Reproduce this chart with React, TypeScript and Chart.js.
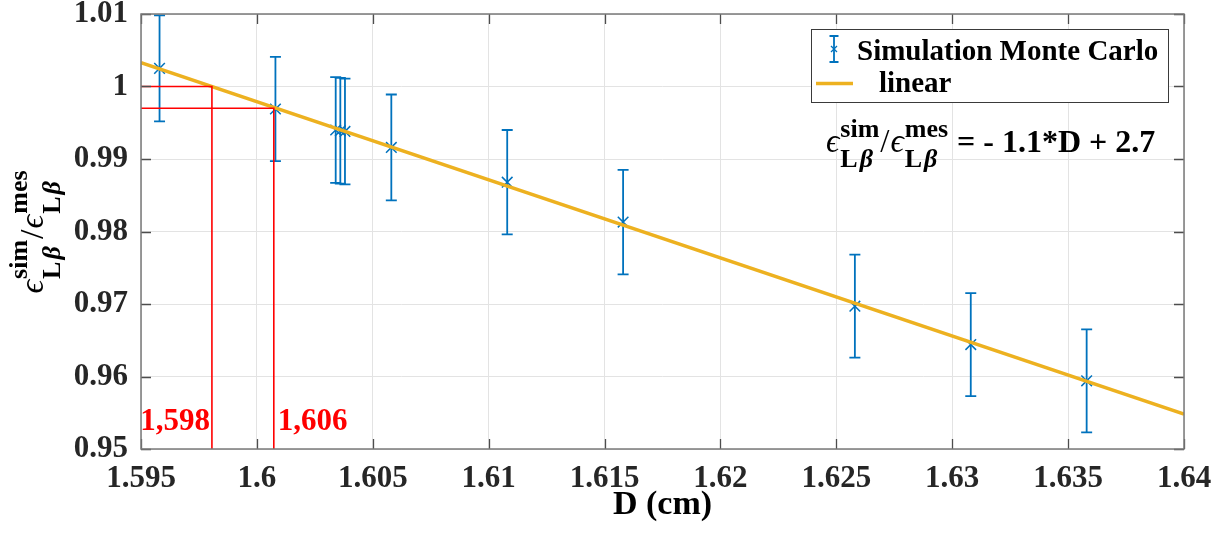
import React, { useEffect, useRef } from 'react';
import { Chart, registerables } from 'chart.js';

Chart.register(...registerables);

// ---------- data ----------
const dValues = [1.5958, 1.6008, 1.6034, 1.6036, 1.6038, 1.6058, 1.6108, 1.6158, 1.6258, 1.6308, 1.6358];
const effRatio = [1.0025, 0.9969, 0.994, 0.9939, 0.9938, 0.9916, 0.9868, 0.9813, 0.9697, 0.9644, 0.9594];
const effError = [0.0073, 0.0072, 0.0073, 0.0073, 0.0073, 0.0073, 0.0072, 0.0072, 0.0071, 0.0071, 0.0071];
const fitD = [1.595, 1.64];
const fitRatio = [1.0033, 0.9548];
const refD = [1.59806, 1.60073];
const refRatio = [1.0, 0.997];
const refLabels = ['1,598', '1,606'];
const xTickValues = [1.595, 1.6, 1.605, 1.61, 1.615, 1.62, 1.625, 1.63, 1.635, 1.64];
const xTickLabels = ['1.595', '1.6', '1.605', '1.61', '1.615', '1.62', '1.625', '1.63', '1.635', '1.64'];
const yTickValues = [0.95, 0.96, 0.97, 0.98, 0.99, 1, 1.01];
const yTickLabels = ['0.95', '0.96', '0.97', '0.98', '0.99', '1', '1.01'];
const legendLabels = ['Simulation Monte Carlo', 'linear'];
const xTitle = 'D (cm)';
const equationText = '= - 1.1*D + 2.7';

const BLUE = '#0072BD';
const YELLOW = '#EDB120';
const RED = '#FF0000';
const SERIF = '"Liberation Serif", "DejaVu Serif", serif';

type Seg = { t: string; f: string };

function drawRatioLabel(
  ctx: CanvasRenderingContext2D,
  startX: number,
  y: number,
  centered: boolean,
  mainSize: number,
  scriptSize: number,
  supShift: number,
  subShift: number
) {
  const mainEps = `italic ${mainSize}px ${SERIF}`;
  const slash = `${mainSize}px ${SERIF}`;
  const supF = `bold ${scriptSize}px ${SERIF}`;
  const subL = `bold ${scriptSize}px ${SERIF}`;
  const subB = `bold italic ${scriptSize}px ${SERIF}`;
  const blocks: { main?: Seg; sup?: Seg; sub?: Seg[] }[] = [
    { main: { t: '\u03F5', f: mainEps } },
    { sup: { t: 'sim', f: supF }, sub: [{ t: 'L', f: subL }, { t: '\u03B2', f: subB }] },
    { main: { t: '/', f: slash } },
    { main: { t: '\u03F5', f: mainEps } },
    { sup: { t: 'mes', f: supF }, sub: [{ t: 'L', f: subL }, { t: '\u03B2', f: subB }] },
  ];
  const w = (s: Seg) => {
    ctx.font = s.f;
    return ctx.measureText(s.t).width;
  };
  const blockW = (b: any) => {
    if (b.main) return w(b.main) + 1;
    const sw = w(b.sup);
    const bw = b.sub.reduce((a: number, s: Seg) => a + w(s), 0) + 2;
    return Math.max(sw, bw) + 1;
  };
  const total = blocks.reduce((a, b) => a + blockW(b), 0);
  let x = centered ? startX - total / 2 : startX;
  ctx.textBaseline = 'alphabetic';
  ctx.textAlign = 'left';
  ctx.fillStyle = '#000';
  for (const b of blocks) {
    const bw = blockW(b);
    if (b.main) {
      ctx.font = b.main.f;
      ctx.fillText(b.main.t, x, y);
    } else {
      ctx.font = b.sup!.f;
      ctx.fillText(b.sup!.t, x, y + supShift);
      let sx = x;
      for (const s of b.sub!) {
        ctx.font = s.f;
        ctx.fillText(s.t, sx, y + subShift);
        sx += ctx.measureText(s.t).width + 2;
      }
    }
    x += bw;
  }
  return x;
}

const decorPlugin = {
  id: 'decor',
  beforeDatasetsDraw(chart: any) {
    const ctx: CanvasRenderingContext2D = chart.ctx;
    const xs = chart.scales.x;
    const ys = chart.scales.y;
    ctx.save();
    ctx.strokeStyle = BLUE;
    ctx.lineWidth = 1.8;
    for (let i = 0; i < dValues.length; i++) {
      const px = xs.getPixelForValue(dValues[i]);
      const top = ys.getPixelForValue(effRatio[i] + effError[i]);
      const bot = ys.getPixelForValue(effRatio[i] - effError[i]);
      ctx.beginPath();
      ctx.moveTo(px, top);
      ctx.lineTo(px, bot);
      ctx.moveTo(px - 5.5, top);
      ctx.lineTo(px + 5.5, top);
      ctx.moveTo(px - 5.5, bot);
      ctx.lineTo(px + 5.5, bot);
      ctx.stroke();
    }
    ctx.restore();
  },
  afterDraw(chart: any) {
    const ctx: CanvasRenderingContext2D = chart.ctx;
    const xs = chart.scales.x;
    const ys = chart.scales.y;
    const { left, right, top, bottom } = chart.chartArea;
    ctx.save();
    // inner ticks
    ctx.strokeStyle = '#4d4d4d';
    ctx.lineWidth = 1.3;
    const tl = 10;
    ctx.beginPath();
    for (const v of xTickValues) {
      const px = Math.round(xs.getPixelForValue(v)) + 0.5;
      ctx.moveTo(px, bottom);
      ctx.lineTo(px, bottom - tl);
      ctx.moveTo(px, top);
      ctx.lineTo(px, top + tl);
    }
    for (const v of yTickValues) {
      const py = Math.round(ys.getPixelForValue(v)) + 0.5;
      ctx.moveTo(left, py);
      ctx.lineTo(left + tl, py);
      ctx.moveTo(right, py);
      ctx.lineTo(right - tl, py);
    }
    ctx.stroke();
    // box
    ctx.strokeStyle = '#7a7a7a';
    ctx.lineWidth = 1.5;
    ctx.strokeRect(left, top, right - left, bottom - top);

    // red labels
    ctx.fillStyle = RED;
    ctx.font = `bold 31px ${SERIF}`;
    ctx.textBaseline = 'alphabetic';
    ctx.textAlign = 'right';
    ctx.fillText(refLabels[0], xs.getPixelForValue(refD[0]) - 2, bottom - 19);
    ctx.textAlign = 'left';
    ctx.fillText(refLabels[1], xs.getPixelForValue(refD[1]) + 4, bottom - 19);

    // legend
    const lx = 811, ly = 29, lw = 357, lh = 73;
    ctx.fillStyle = '#fff';
    ctx.fillRect(lx, ly, lw, lh);
    ctx.strokeStyle = '#3a3a3a';
    ctx.lineWidth = 1;
    ctx.strokeRect(lx + 0.5, ly + 0.5, lw, lh);
    // errorbar icon
    ctx.strokeStyle = BLUE;
    ctx.lineWidth = 1.8;
    ctx.beginPath();
    ctx.moveTo(834, 36);
    ctx.lineTo(834, 62);
    ctx.moveTo(829.5, 36);
    ctx.lineTo(838.5, 36);
    ctx.moveTo(829.5, 62);
    ctx.lineTo(838.5, 62);
    ctx.stroke();
    ctx.lineWidth = 1.3;
    ctx.beginPath();
    ctx.moveTo(831, 46);
    ctx.lineTo(837, 52);
    ctx.moveTo(837, 46);
    ctx.lineTo(831, 52);
    ctx.stroke();
    // line icon
    ctx.strokeStyle = YELLOW;
    ctx.lineWidth = 3.5;
    ctx.beginPath();
    ctx.moveTo(816, 83.5);
    ctx.lineTo(853, 83.5);
    ctx.stroke();
    ctx.fillStyle = '#000';
    ctx.font = `bold 29px ${SERIF}`;
    ctx.textAlign = 'left';
    ctx.fillText(legendLabels[0], 857, 60);
    ctx.fillText(legendLabels[1], 879, 92);

    // equation
    const endX = drawRatioLabel(ctx, 826, 152, false, 33, 26, -15, 15);
    ctx.font = `bold 32px ${SERIF}`;
    ctx.fillStyle = '#000';
    ctx.textAlign = 'left';
    ctx.fillText(equationText, endX + 8, 152);

    // x title
    ctx.font = `bold 34px ${SERIF}`;
    ctx.textAlign = 'center';
    ctx.fillStyle = '#000';
    ctx.fillText(xTitle, (left + right) / 2, 514);

    // y title
    ctx.save();
    ctx.translate(43, (top + bottom) / 2);
    ctx.rotate(-Math.PI / 2);
    drawRatioLabel(ctx, 0, 0, true, 34, 26, -16, 17);
    ctx.restore();

    ctx.restore();
  },
};

export default function App() {
  const canvasRef = useRef<HTMLCanvasElement | null>(null);

  useEffect(() => {
    const canvas = canvasRef.current;
    if (!canvas) return;
    const tickFont = { family: SERIF, size: 31, weight: 'bold' as const };
    const chart = new Chart(canvas, {
      type: 'scatter',
      data: {
        datasets: [
          {
            label: 'red1',
            type: 'line',
            data: [
              { x: fitD[0], y: refRatio[0] },
              { x: refD[0], y: refRatio[0] },
              { x: refD[0], y: yTickValues[0] },
            ],
            borderColor: RED,
            borderWidth: 1.6,
            pointRadius: 0,
            fill: false,
            tension: 0,
            order: 0,
          },
          {
            label: 'red2',
            type: 'line',
            data: [
              { x: fitD[0], y: refRatio[1] },
              { x: refD[1], y: refRatio[1] },
              { x: refD[1], y: yTickValues[0] },
            ],
            borderColor: RED,
            borderWidth: 1.6,
            pointRadius: 0,
            fill: false,
            tension: 0,
            order: 0,
          },
          {
            label: legendLabels[1],
            type: 'line',
            data: fitD.map((d, i) => ({ x: d, y: fitRatio[i] })),
            borderColor: YELLOW,
            borderWidth: 3.5,
            pointRadius: 0,
            fill: false,
            tension: 0,
            order: 1,
          },
          {
            label: legendLabels[0],
            data: dValues.map((d, i) => ({ x: d, y: effRatio[i] })),
            pointStyle: 'crossRot',
            pointRadius: 7.5,
            pointBorderWidth: 1.5,
            borderColor: BLUE,
            backgroundColor: BLUE,
            order: 2,
          },
        ],
      },
      options: {
        responsive: false,
        animation: false,
        devicePixelRatio: 1,
        layout: { padding: { top: 14, right: 42, left: 0, bottom: 0 } },
        plugins: {
          legend: { display: false },
          tooltip: { enabled: false },
          title: { display: false },
        },
        scales: {
          x: {
            type: 'linear',
            min: 1.595,
            max: 1.64,
            afterBuildTicks: (s: any) => {
              s.ticks = xTickValues.map((v) => ({ value: v }));
            },
            afterFit: (s: any) => {
              s.height = 94;
              s.paddingLeft = 0;
              s.paddingRight = 0;
            },
            ticks: {
              callback: (_v: any, i: number) => xTickLabels[i],
              font: tickFont,
              color: '#262626',
              padding: 11,
              maxRotation: 0,
              autoSkip: false,
            },
            grid: { color: '#e3e3e3', lineWidth: 1, drawTicks: false },
            border: { display: false },
          },
          y: {
            type: 'linear',
            min: 0.95,
            max: 1.01,
            afterBuildTicks: (s: any) => {
              s.ticks = yTickValues.map((v) => ({ value: v }));
            },
            afterFit: (s: any) => {
              s.width = 141;
              s.paddingTop = 0;
              s.paddingBottom = 0;
            },
            ticks: {
              callback: (_v: any, i: number) => yTickLabels[i],
              font: tickFont,
              color: '#262626',
              padding: 13,
              autoSkip: false,
            },
            grid: { color: '#e3e3e3', lineWidth: 1, drawTicks: false },
            border: { display: false },
          },
        },
      },
      plugins: [decorPlugin],
    });
    return () => chart.destroy();
  }, []);

  return (
    <div style={{ position: 'fixed', left: 0, top: 0, width: 1226, height: 543, background: '#fff' }}>
      <canvas ref={canvasRef} width={1226} height={543} />
    </div>
  );
}
